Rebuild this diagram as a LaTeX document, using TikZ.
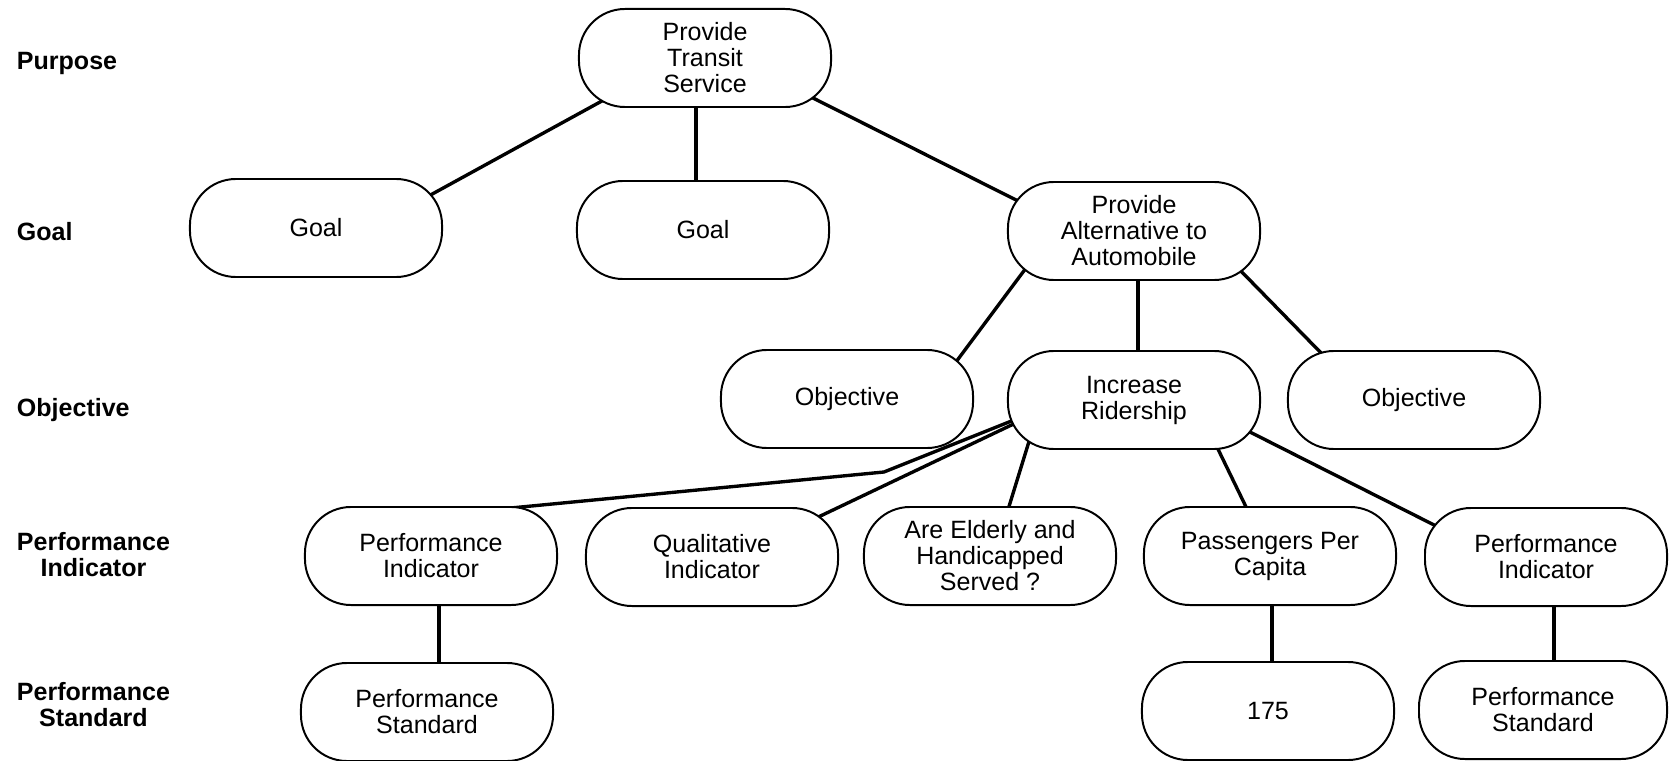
\documentclass[tikz,border=0pt]{standalone}
\usepackage{fontspec}
\setmainfont{Liberation Sans}
\usetikzlibrary{calc,backgrounds}

\begin{document}
\begin{tikzpicture}[
  x=0.025cm, y=-0.025cm,
  box/.style={rectangle, draw, line width=1.4pt, rounded corners=1.15cm, fill=white, minimum width=6.3cm, minimum height=2.45cm, inner sep=0pt, align=center, font=\fontsize{17.8}{18.5}\selectfont},
  link/.style={line width=2.4pt},
  tier/.style={anchor=west, align=center, font=\fontsize{17.8}{18.5}\selectfont\bfseries}
]
  \useasboundingbox (0,0) rectangle (1670,761);

  % Row labels
  \node[tier] (lpurpose) at (12,63) {Purpose};
  \node[tier] (lgoal) at (12,232) {Goal};
  \node[tier] (lobjective) at (12,410) {Objective};
  \node[tier] (lindicator) at (12,555) {Performance\\Indicator};
  \node[tier] (lstandard) at (12,705) {Performance\\Standard};

  % Purpose
  \node[box] (purpose) at (705,58) {Provide\\Transit\\Service};

  % Goals
  \node[box] (goalA) at (316,228) {Goal};
  \node[box] (goalB) at (703,230) {Goal};
  \node[box] (altern) at (1134,231) {Provide\\Alternative to\\Automobile};

  % Objectives
  \node[box] (objA) at (847,399) {Objective};
  \node[box] (ridership) at (1134,400) {Increase\\Ridership};
  \node[box] (objB) at (1414,400) {Objective};

  % Indicators
  \node[box] (perfA) at (431,556) {Performance\\Indicator};
  \node[box] (qual) at (712,557) {Qualitative\\Indicator};
  \node[box] (elderly) at (990,556) {Are Elderly and\\Handicapped\\Served ?};
  \node[box] (capita) at (1270,556) {Passengers Per\\Capita};
  \node[box, minimum width=6.05cm] (perfB) at (1546,557) {Performance\\Indicator};

  % Standards
  \node[box] (stdA) at (427,712) {Performance\\Standard};
  \node[box] (n175) at (1268,711) {175};
  \node[box, minimum width=6.2cm] (stdB) at (1543,710) {Performance\\Standard};

  \coordinate (kink) at (884,472);

  \begin{scope}[on background layer]
    \draw[link] ($(purpose)+(-94,38)$) -- ($(goalA)+(109,-30)$);
    \draw[link] ($(purpose)+(-9,45)$) -- ($(goalB)+(-7,-45)$);
    \draw[link] ($(purpose)+(104,38)$) -- ($(altern)+(-108,-26)$);
    \draw[link] ($(altern)+(-105,33)$) -- ($(objA)+(103,-29)$);
    \draw[link] ($(altern)+(4,45)$) -- ($(ridership)+(4,-45)$);
    \draw[link] ($(altern)+(101,34)$) -- ($(objB)+(-89,-43)$);
    \draw[link] ($(ridership)+(-115,18)$) -- (kink) -- ($(perfA)+(59,-46)$);
    \draw[link] ($(ridership)+(-112,20)$) -- ($(qual)+(100,-37)$);
    \draw[link] ($(ridership)+(-103,35)$) -- ($(elderly)+(17,-43)$);
    \draw[link] ($(ridership)+(82,45)$) -- ($(capita)+(-22,-45)$);
    \draw[link] ($(ridership)+(108,28)$) -- ($(perfB)+(-104,-28)$);
    \draw[link] ($(perfA)+(8,45)$) -- ($(stdA)+(12,-45)$);
    \draw[link] ($(capita)+(2,45)$) -- ($(n175)+(4,-45)$);
    \draw[link] ($(perfB)+(8,45)$) -- ($(stdB)+(11,-45)$);
  \end{scope}
\end{tikzpicture}
\end{document}
